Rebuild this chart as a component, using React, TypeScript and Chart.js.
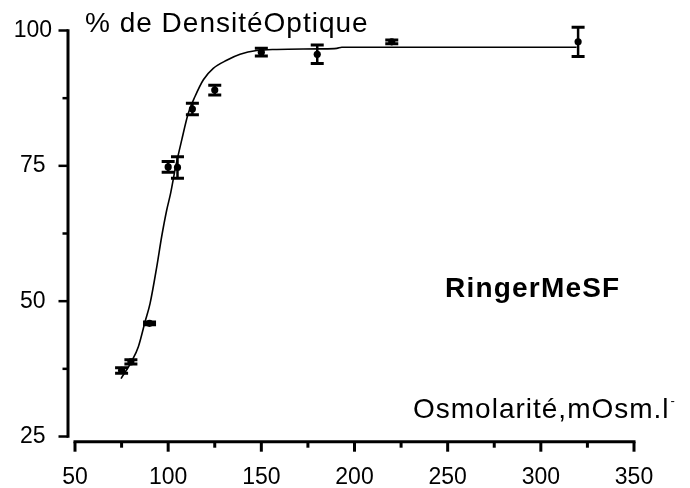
import React, { useEffect, useRef } from "react";
import { Chart, registerables } from "chart.js";

Chart.register(...registerables);

// Measured points (osmolarity, % optical density, error)
const osmolarity = [75, 80, 90, 100, 105, 113, 125, 150, 180, 220, 320];
const density = [37.2, 38.8, 45.9, 74.8, 74.7, 85.5, 89.0, 96.0, 95.6, 97.9, 97.9];
const densityError = [0.5, 0.4, 0.25, 1.0, 2.0, 1.05, 0.9, 0.7, 1.7, 0.35, 2.7];

// Fitted curve
const fitOsmolarity = [74.7, 80.4, 84.0, 87.6, 90.3, 93.9, 96.5, 99.2, 101.3, 104.0, 107.3, 110.8, 114.4, 118.9, 124.2, 131.4, 138.6, 147.5, 158.3, 181.5, 190.5, 193.2, 319.2];
const fitDensity = [35.7, 38.9, 41.6, 46.2, 49.6, 56.4, 61.9, 66.8, 69.9, 74.8, 79.8, 84.7, 87.8, 90.9, 93.0, 94.5, 95.6, 96.3, 96.5, 96.6, 96.7, 96.9, 96.9];

const xTickValues = [50, 100, 150, 200, 250, 300, 350];
const xMinorTicks = [75, 125, 175, 225, 275, 325];
const yTickValues = [25, 50, 75, 100];
const yMinorTicks = [37.5, 62.5, 87.5];

const yTitle = "% de DensitéOptique";
const xTitle = "Osmolarité,mOsm.l";
const xTitleSup = "-";
const seriesLabel = "RingerMeSF";

const FONT = '"Liberation Sans", Arial, Helvetica, sans-serif';

const axesPlugin = {
  id: "prismAxes",
  afterDatasetsDraw(chart: any) {
    const { ctx, chartArea, scales } = chart;
    const x = scales.x;
    const y = scales.y;
    ctx.save();
    ctx.strokeStyle = "#000";
    ctx.fillStyle = "#000";
    ctx.lineCap = "butt";

    // error bars
    osmolarity.forEach((v, i) => {
      const px = x.getPixelForValue(v);
      const top = y.getPixelForValue(density[i] + densityError[i]);
      const bot = y.getPixelForValue(density[i] - densityError[i]);
      ctx.lineWidth = 2.5;
      ctx.beginPath();
      ctx.moveTo(px, top);
      ctx.lineTo(px, bot);
      ctx.stroke();
      ctx.lineWidth = 3;
      ctx.beginPath();
      ctx.moveTo(px - 6.5, top);
      ctx.lineTo(px + 6.5, top);
      ctx.moveTo(px - 6.5, bot);
      ctx.lineTo(px + 6.5, bot);
      ctx.stroke();
    });

    // y axis (detached, left of plot)
    const yAxisX = chartArea.left - 7;
    const yTop = y.getPixelForValue(100);
    const yBot = y.getPixelForValue(25);
    ctx.lineWidth = 3;
    ctx.beginPath();
    ctx.moveTo(yAxisX, yTop - 1.2);
    ctx.lineTo(yAxisX, yBot + 1.2);
    ctx.stroke();
    ctx.lineWidth = 2.5;
    yTickValues.forEach((v) => {
      const py = y.getPixelForValue(v);
      ctx.beginPath();
      ctx.moveTo(yAxisX - 9.5, py);
      ctx.lineTo(yAxisX, py);
      ctx.stroke();
    });
    yMinorTicks.forEach((v) => {
      const py = y.getPixelForValue(v);
      ctx.beginPath();
      ctx.moveTo(yAxisX - 5.5, py);
      ctx.lineTo(yAxisX, py);
      ctx.stroke();
    });

    // x axis
    const xAxisY = chartArea.bottom;
    const xl = x.getPixelForValue(50);
    const xr = x.getPixelForValue(350);
    ctx.lineWidth = 3;
    ctx.beginPath();
    ctx.moveTo(xl - 1.5, xAxisY);
    ctx.lineTo(xr + 1.5, xAxisY);
    ctx.stroke();
    xTickValues.forEach((v) => {
      const px = x.getPixelForValue(v);
      ctx.beginPath();
      ctx.moveTo(px, xAxisY);
      ctx.lineTo(px, xAxisY + 10);
      ctx.stroke();
    });
    xMinorTicks.forEach((v) => {
      const px = x.getPixelForValue(v);
      ctx.beginPath();
      ctx.moveTo(px, xAxisY);
      ctx.lineTo(px, xAxisY + 6);
      ctx.stroke();
    });

    // texts
    ctx.textBaseline = "alphabetic";
    ctx.textAlign = "left";
    (ctx as any).letterSpacing = "1px";
    ctx.font = `28px ${FONT}`;
    ctx.fillText(yTitle, 85, 31.7);
    ctx.fillText(xTitle, 413, 418.3);
    const w = ctx.measureText(xTitle).width;
    ctx.font = `13px ${FONT}`;
    (ctx as any).letterSpacing = "0px";
    ctx.fillText(xTitleSup, 413 + w + 1, 405);
    (ctx as any).letterSpacing = "1.2px";
    ctx.font = `bold 28px ${FONT}`;
    ctx.fillText(seriesLabel, 445, 296.7);
    ctx.restore();
  },
};

export default function App() {
  const canvasRef = useRef<HTMLCanvasElement | null>(null);

  useEffect(() => {
    const canvas = canvasRef.current;
    if (!canvas) return;
    const chart = new Chart(canvas, {
      type: "scatter",
      data: {
        datasets: [
          {
            label: "fit",
            data: fitOsmolarity.map((v, i) => ({ x: v, y: fitDensity[i] })),
            showLine: true,
            pointRadius: 0,
            borderColor: "#000",
            borderWidth: 1.6,
            cubicInterpolationMode: "monotone",
            clip: false,
          } as any,
          {
            label: seriesLabel,
            data: osmolarity.map((v, i) => ({ x: v, y: density[i] })),
            pointRadius: 3.6,
            pointBackgroundColor: "#000",
            pointBorderWidth: 0,
            borderColor: "#000",
            clip: false,
          } as any,
        ],
      },
      options: {
        animation: false,
        responsive: false,
        events: [],
        layout: { padding: { top: 30.5, right: 56, left: 0, bottom: 0 } },
        plugins: { legend: { display: false }, tooltip: { enabled: false }, title: { display: false } },
        scales: {
          x: {
            type: "linear",
            min: 50,
            max: 350,
            afterBuildTicks: (s: any) => {
              s.ticks = xTickValues.map((v) => ({ value: v }));
            },
            afterFit: (s: any) => {
              s.height = 46.3;
              s.paddingLeft = 0;
              s.paddingRight = 0;
            },
            grid: { display: false, drawTicks: false },
            border: { display: false },
            ticks: {
              autoSkip: false,
              maxRotation: 0,
              color: "#000",
              padding: 22,
              font: { family: FONT, size: 23 },
            },
          },
          y: {
            type: "linear",
            min: 24.04,
            max: 100,
            afterBuildTicks: (s: any) => {
              s.ticks = yTickValues.map((v) => ({ value: v }));
            },
            afterFit: (s: any) => {
              s.width = 75;
              s.paddingTop = 0;
              s.paddingBottom = 0;
            },
            grid: { display: false, drawTicks: false },
            border: { display: false },
            ticks: {
              color: "#000",
              padding: 23,
              crossAlign: "center",
              font: { family: FONT, size: 23 },
            },
          },
        },
      },
      plugins: [axesPlugin],
    } as any);
    return () => chart.destroy();
  }, []);

  return (
    <div style={{ position: "fixed", left: 0, top: 0, width: 690, height: 488, background: "#fff" }}>
      <canvas ref={canvasRef} width={690} height={488} style={{ display: "block", width: 690, height: 488 }} />
    </div>
  );
}
